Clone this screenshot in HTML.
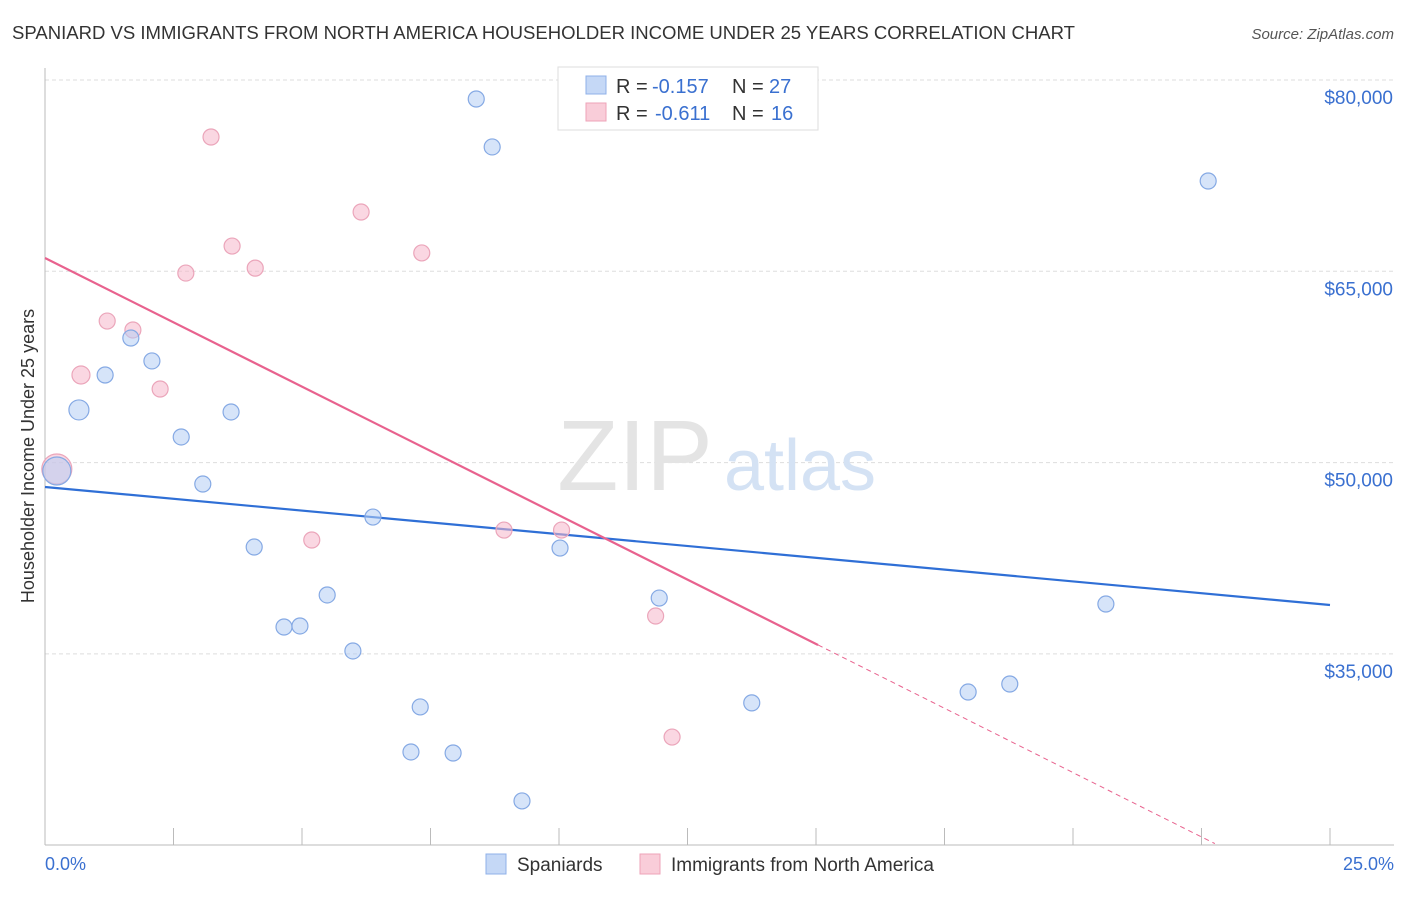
<!DOCTYPE html>
<html><head><meta charset="utf-8"><style>
body{margin:0;background:#fff;font-family:"Liberation Sans",sans-serif;}
svg text{font-family:"Liberation Sans",sans-serif;}
</style></head><body>
<svg id="c" width="1406" height="892" viewBox="0 0 1406 892">
<text x="12" y="39" font-size="18.55" fill="#333">SPANIARD VS IMMIGRANTS FROM NORTH AMERICA HOUSEHOLDER INCOME UNDER 25 YEARS CORRELATION CHART</text>
<text x="1394" y="39" font-size="15" fill="#555" font-style="italic" text-anchor="end">Source: ZipAtlas.com</text>
<g id="grid"></g>
<g>
<text x="635" y="490" font-size="100" fill="#e4e4e4" font-family="Liberation Serif" text-anchor="middle">ZIP</text>
<text x="800" y="490" font-size="72" fill="#d4e2f4" text-anchor="middle">atlas</text></g>
<text transform="translate(34,456) rotate(-90)" font-size="18" fill="#333" text-anchor="middle">Householder Income Under 25 years</text>
<g id="lines"></g>
<g id="pts"></g>
<g>
<rect x="558" y="67" width="260" height="63" fill="#fff" stroke="#ddd"/>
<rect x="586" y="76" width="20" height="18" fill="#c5d8f6" stroke="#8fb0e8"/>
<text x="616" y="93" font-size="20" fill="#333">R =</text>
<text x="652" y="93" font-size="20" fill="#3a70d0">-0.157</text>
<text x="732" y="93" font-size="20" fill="#333">N =</text>
<text x="769" y="93" font-size="20" fill="#3a70d0">27</text>
<rect x="586" y="103" width="20" height="18" fill="#f9cdd9" stroke="#eea3b8"/>
<text x="616" y="120" font-size="20" fill="#333">R =</text>
<text x="655" y="120" font-size="20" fill="#3a70d0">-0.611</text>
<text x="732" y="120" font-size="20" fill="#333">N =</text>
<text x="771" y="120" font-size="20" fill="#3a70d0">16</text>
</g>
<g>
<rect x="486" y="854" width="20" height="20" fill="#c5d8f6" stroke="#8fb0e8"/>
<text x="517" y="871" font-size="19" fill="#333">Spaniards</text>
<rect x="640" y="854" width="20" height="20" fill="#f9cdd9" stroke="#eea3b8"/>
<text x="671" y="871" font-size="19" fill="#333">Immigrants from North America</text>
</g>
<text x="45" y="870" font-size="18" fill="#3a70d0">0.0%</text>
<text x="1394" y="870" font-size="18" fill="#3a70d0" text-anchor="end">25.0%</text>
</svg>
<script>
const yTicks=[80000,65000,50000,35000];
const yTickLabels=["$80,000","$65,000","$50,000","$35,000"];
const blueX=[8.39,8.70,22.63,1.67,2.08,1.17,0.66,3.62,2.65,3.07,0.23,6.38,4.07,10.02,5.49,11.95,20.64,4.65,4.96,5.99,17.96,18.77,7.30,13.75,7.12,7.94,9.28];
const blueY=[78510,74750,72080,59770,57970,56870,54130,53970,52010,48320,49340,45730,43380,43300,39620,39380,38910,37110,37190,35230,32010,32640,30840,31160,27310,27230,23470];
const blueR=[8,8,8,8,8,8,10,8,8,8,14,8,8,8,8,8,8,8,8,8,8,8,8,8,8,8,8];
const pinkX=[3.23,6.15,3.64,2.74,4.09,7.33,1.21,1.71,0.70,2.24,0.23,5.19,8.93,10.05,11.88,12.20];
const pinkY=[75530,69650,66980,64860,65250,66440,61100,60400,56870,55770,49500,43930,44710,44710,37970,28480];
const pinkR=[8,8,8,8,8,8,8,8,9,8,15,8,8,8,8,8];
const blueTrend=[48086,38834];
const pinkTrend=[66043,35700];
const pinkSolidEnd=15.04, pinkDashEnd=22.76;
const X=p=>45+p/25*1285;
const Y=v=>80+(80000-v)/15000*191.3;
const NS="http://www.w3.org/2000/svg";
function mk(t,a,parent){const e=document.createElementNS(NS,t);for(const k in a)e.setAttribute(k,a[k]);document.getElementById(parent).appendChild(e);return e;}
yTicks.forEach((v,i)=>{
 const l=mk('line',{x1:45,x2:1394,y1:Y(v),y2:Y(v),stroke:'#ddd','stroke-dasharray':'4,3'},'grid');
 
 
 const t=mk('text',{x:1393,y:Y(v)+24,'font-size':19,fill:'#3a70d0','text-anchor':'end'},'grid');
 t.textContent=yTickLabels[i];
 
 
});
const ax=mk('line',{x1:45,x2:45,y1:68,y2:845,stroke:'#bbb'},'grid');


const bx=mk('line',{x1:45,x2:1394,y1:845,y2:845,stroke:'#bbb'},'grid');


for(let i=0;i<=10;i++){
 const t=mk('line',{x1:X(i*2.5),x2:X(i*2.5),y1:828,y2:845,stroke:'#bbb'},'grid');
 
 
}
const slope=(pinkTrend[1]-pinkTrend[0])/pinkSolidEnd;
let l1=mk('line',{x1:X(0),y1:Y(blueTrend[0]),x2:X(25),y2:Y(blueTrend[1]),stroke:'#2f6fd6','stroke-width':2.2},'lines');


let l2=mk('line',{x1:X(0),y1:Y(pinkTrend[0]),x2:X(pinkSolidEnd),y2:Y(pinkTrend[1]),stroke:'#e8628e','stroke-width':2.2},'lines');


let l3=mk('line',{x1:X(pinkSolidEnd),y1:Y(pinkTrend[1]),x2:X(pinkDashEnd),y2:Y(pinkTrend[0]+slope*pinkDashEnd),stroke:'#e8628e','stroke-width':1,'stroke-dasharray':'5,4'},'lines');


pinkX.forEach((x,i)=>{
 const c=mk('circle',{cx:X(x),cy:Y(pinkY[i]),r:pinkR[i],fill:'rgba(246,182,202,0.55)',stroke:'#eba5ba','stroke-width':1.2},'pts');
 
 
});
blueX.forEach((x,i)=>{
 const c=mk('circle',{cx:X(x),cy:Y(blueY[i]),r:blueR[i],fill:'rgba(180,206,244,0.55)',stroke:'#85a9e4','stroke-width':1.2},'pts');
 
 
});
</script>
</body></html>
